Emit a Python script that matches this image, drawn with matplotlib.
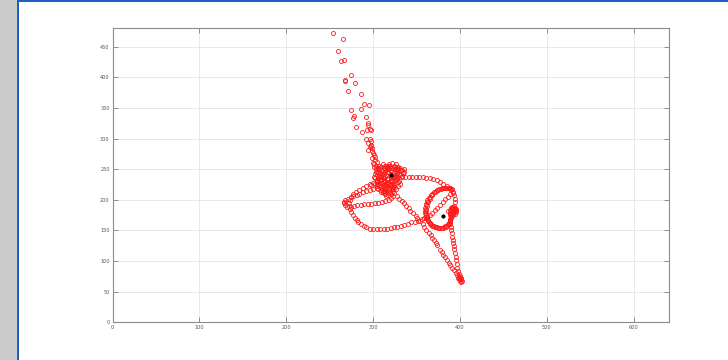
import matplotlib
matplotlib.use("Agg")
import matplotlib.pyplot as plt
from matplotlib.patches import Rectangle

# Upper tail: sparse track coming down from the top
tail_x = [254, 265, 259, 266, 263, 274, 268, 268, 279, 271, 286, 289, 295, 275, 286,
          278, 277, 292, 294, 294, 280, 296, 293, 287, 298, 292, 296, 294, 298, 296,
          299, 294, 299, 301, 299, 302, 300, 301, 303, 305, 297, 300, 302, 304, 298,
          301, 303, 306]
tail_y = [472, 462, 443, 429, 426, 404, 396, 394, 390, 377, 372, 356, 355, 347, 348,
          337, 334, 335, 325, 322, 319, 315, 314, 311, 314, 300, 300, 292, 289, 286,
          284, 281, 279, 273, 268, 265, 260, 254, 250, 246, 296, 276, 270, 262, 288,
          258, 256, 252]

# Rosette of small loops around the first resting point
flower_x = [306, 307, 311, 315, 316, 314, 310, 307,
            317, 318, 322, 326, 327, 325, 321, 318,
            326, 327, 331, 335, 336, 334, 330, 327,
            301, 302, 306, 310, 311, 309, 305, 302,
            305, 306, 310, 314, 315, 313, 309, 306,
            313, 314, 318, 322, 323, 321, 317, 314,
            321, 322, 326, 330, 331, 329, 325, 322,
            315, 320, 324, 318, 312, 322, 316, 313, 326, 310, 319, 316,
            308, 312, 316, 320, 324, 328, 304, 308, 312, 316, 320, 324,
            309, 313, 317, 321, 325, 329, 333, 303, 307, 311, 315, 319,
            323, 327, 311, 315, 319, 323, 308, 304,
            307, 309, 312, 314, 317, 319, 322, 324, 327, 329, 332, 334,
            304, 306, 309, 311, 314, 317, 320, 323, 326, 328, 331, 333,
            305, 308, 311, 314, 317, 320, 323, 326, 329, 312, 316, 320,
            324, 310, 314, 318, 322, 326, 314, 318, 309, 313, 317, 321]
flower_y = [252, 256, 258, 256, 252, 248, 247, 249,
            254, 258, 260, 258, 254, 250, 249, 251,
            247, 251, 252, 250, 246, 243, 242, 244,
            238, 242, 244, 242, 238, 234, 233, 235,
            222, 226, 228, 226, 222, 218, 216, 218,
            214, 218, 220, 218, 214, 210, 208, 210,
            226, 230, 232, 230, 226, 222, 221, 223,
            240, 236, 240, 244, 232, 232, 228, 246, 238, 240, 226, 250,
            244, 242, 246, 248, 244, 242, 230, 228, 236, 234, 238, 236,
            254, 252, 256, 252, 254, 250, 248, 246, 224, 222, 220, 224,
            218, 234, 212, 206, 212, 222, 238, 226,
            250, 254, 252, 255, 252, 256, 252, 255, 250, 253, 248, 244,
            240, 236, 239, 235, 238, 234, 240, 237, 241, 236, 240, 238,
            230, 232, 229, 231, 229, 231, 228, 232, 229, 224, 225, 223,
            224, 220, 219, 217, 220, 218, 214, 212, 212, 211, 216, 209]

# Upper arc from the rosette across to the right loop
arc_x = [333, 337, 341, 345, 349, 353, 357, 361, 365, 369, 373, 377, 381, 385, 388, 390, 392]
arc_y = [239, 238, 238, 238, 238, 237, 237, 236, 235, 234, 232, 229, 226, 223, 220, 216, 211]

# Closed loop around the second resting point, traced several times
loop_x = [388, 384, 380, 376, 372, 368, 365, 362, 361, 360, 360, 361, 362, 364, 367,
          370, 374, 378, 382, 385, 387, 389, 390, 390, 391, 392, 394, 393, 390, 388,
          390, 393, 394, 392,
          393, 394, 394, 393, 392, 390, 386, 382, 378, 374, 370, 367, 364, 362, 361,
          361, 361, 362, 363, 366, 369, 372, 376, 380, 384, 387, 389, 390, 391, 392,
          386, 389, 391, 388, 392, 390,
          391, 387, 383, 379, 375, 371, 368, 365, 363, 362, 361, 360, 361, 363, 365,
          368, 371, 375, 379, 383, 386, 388, 389, 390, 391, 393, 395, 395, 394, 392,
          395, 392, 389, 391]
loop_y = [219, 220, 219, 217, 214, 210, 205, 199, 193, 187, 181, 175, 169, 164, 160,
          157, 155, 154, 155, 158, 162, 167, 172, 177, 182, 186, 187, 183, 181, 184,
          187, 185, 181, 178,
          190, 196, 202, 208, 213, 217, 219, 219, 218, 216, 212, 208, 203, 197, 191,
          185, 179, 173, 167, 162, 158, 156, 154, 154, 156, 160, 165, 170, 175, 180,
          182, 179, 188, 176, 183, 186,
          218, 220, 220, 219, 216, 213, 208, 202, 196, 190, 184, 178, 171, 165, 161,
          158, 155, 154, 154, 157, 160, 164, 169, 174, 179, 184, 185, 180, 177, 188,
          183, 176, 179, 185]

# Straight run from the rosette down to the lower tail
drop_x = [324, 327, 330, 333, 335, 338, 341, 343, 346, 349, 351, 354, 357, 359, 361]
drop_y = [211, 206, 202, 198, 194, 190, 186, 182, 178, 174, 170, 165, 161, 156, 150]

# Lower tail: down the outer side and back up the inner side
low_x = [364, 367, 368, 370, 372, 374, 377, 379, 381, 383, 385, 387, 389, 391, 393,
         395, 397, 398, 399, 400, 401, 402, 401, 400, 399, 398, 397, 396, 395, 395,
         394, 393, 393, 392, 392, 391, 391, 390, 390, 389, 389, 400, 401, 399]
low_y = [146, 142, 138, 134, 130, 126, 118, 114, 110, 106, 101, 97, 93, 89, 85,
         81, 77, 73, 70, 68, 66, 67, 71, 75, 79, 84, 89, 95, 101, 107,
         113, 119, 125, 130, 135, 140, 145, 150, 156, 161, 166, 70, 72, 74]

# Left-hand loops and the long lower arc toward the right loop
left_x = [308, 304, 300, 296, 292, 288, 284, 281, 277, 274, 271, 268, 266, 266, 268, 270,
          274, 278, 282, 286, 290, 294, 298, 302, 306, 310, 314, 318, 321, 323,
          296, 292, 288, 284, 280, 277, 275, 273, 272, 272, 273, 275, 277, 279, 281,
          283, 286, 289, 292, 296, 300, 304, 308, 312, 316, 320, 324, 328, 332, 336,
          340, 344, 348, 352, 356, 359, 362, 365, 368, 371, 374, 377, 380, 383, 386,
          389, 300, 304, 306, 302, 298]
left_y = [221, 219, 218, 216, 214, 212, 210, 208, 206, 204, 202, 200, 197, 194, 191, 189,
          189, 190, 191, 192, 193, 193, 193, 194, 195, 196, 198, 200, 203, 207,
          225, 222, 219, 216, 213, 209, 205, 200, 195, 190, 185, 180, 175, 171, 167,
          163, 160, 157, 155, 153, 152, 152, 152, 152, 153, 154, 155, 156, 157, 159,
          161, 163, 164, 166, 168, 170, 172, 175, 179, 183, 187, 192, 197, 201, 205,
          209, 228, 231, 234, 226, 224]

# Resting points
rest_x = [320, 381]
rest_y = [241, 174]

trace_x = tail_x + flower_x + arc_x + loop_x + drop_x + low_x + left_x
trace_y = tail_y + flower_y + arc_y + loop_y + drop_y + low_y + left_y

fig = plt.figure(figsize=(7.28, 3.6), dpi=100)
fig.patch.set_facecolor("white")

# Window frame: grey side strip with blue border lines
W, H = 728.0, 360.0
fig.patches.append(Rectangle((0, 0), 17 / W, 1, transform=fig.transFigure,
                             facecolor="#cccccc", edgecolor="none", zorder=0))
fig.patches.append(Rectangle((17 / W, 0), 2 / W, 1, transform=fig.transFigure,
                             facecolor="#1f5fc4", edgecolor="none", zorder=1))
fig.patches.append(Rectangle((17 / W, 1 - 2 / H), 1 - 17 / W, 2 / H, transform=fig.transFigure,
                             facecolor="#1f5fc4", edgecolor="none", zorder=1))

ax = fig.add_axes([112.5 / W, 1 - 322.3 / H, (668.5 - 112.5) / W, (322.3 - 28.3) / H])
ax.plot(trace_x, trace_y, linestyle="none", marker="o", markersize=2.9,
        markerfacecolor="none", markeredgecolor="#ff1a1a", markeredgewidth=0.6)
ax.plot(rest_x, rest_y, linestyle="none", marker="o", markersize=2.0,
        color="black")

ax.set_xlim(0, 640)
ax.set_ylim(0, 480)
ax.set_xticks(range(0, 601, 100))
ax.set_yticks(range(0, 451, 50))
ax.grid(True, color="#e4e4e4", linewidth=0.6)
ax.set_axisbelow(True)
for s in ax.spines.values():
    s.set_color("#8c8c8c")
    s.set_linewidth(0.8)
ax.tick_params(direction="in", length=3.5, width=0.7, color="#8c8c8c",
               labelsize=3.6, labelcolor="#555555", pad=2,
               top=True, right=True)

fig.savefig("out.png", dpi=100)
